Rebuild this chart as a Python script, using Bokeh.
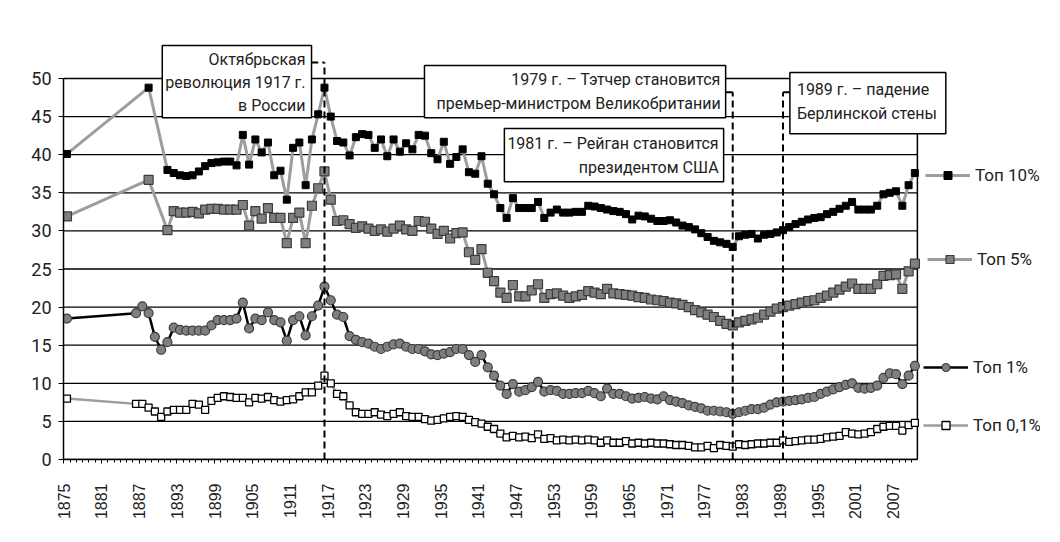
import math
from bokeh.plotting import figure
from bokeh.models import (Range1d, FixedTicker, Label, Arrow, Legend,
                          LegendItem, CustomJSTickFormatter)
from bokeh.core.properties import value
from bokeh.embed import file_html
from bokeh.resources import INLINE

# ---------------- data (income shares, %) ----------------
years_top10 = [1876, 1889] + list(range(1892, 2012))
top10 = [40.1, 48.8,
         38.0, 37.6, 37.3, 37.2, 37.3, 37.8, 38.5, 38.9,
         39.0, 39.1, 39.1, 38.6, 42.6, 38.7, 42.0, 40.3, 41.6, 37.3,
         37.9, 34.1, 40.9, 41.6, 36.0, 42.0, 45.3, 48.8, 45.0, 41.8,
         41.6, 39.9, 42.3, 42.7, 42.6, 40.9, 42.0, 39.8, 42.0, 40.4,
         41.5, 40.7, 42.6, 42.5, 40.2, 39.4, 41.7, 38.8, 39.7, 40.7,
         37.7, 37.5, 39.8, 36.2, 34.8, 33.0, 31.7, 34.3, 33.0, 33.0,
         33.0, 33.8, 31.7, 32.4, 32.8, 32.4, 32.4, 32.5, 32.5, 33.3,
         33.2, 33.0, 32.8, 32.6, 32.5, 32.2, 31.5, 32.0, 31.9, 31.6,
         31.3, 31.3, 31.4, 31.1, 30.7, 30.5, 30.2, 29.7, 29.2, 28.7,
         28.5, 28.3, 27.9, 29.3, 29.5, 29.6, 29.0, 29.5, 29.6, 29.8,
         30.1, 30.5, 30.9, 31.2, 31.5, 31.7, 31.8, 32.2, 32.5, 32.9,
         33.3, 33.8, 32.8, 32.8, 32.8, 33.3, 34.8, 35.0, 35.2, 33.3,
         36.0, 37.6]

years_top5 = [1876, 1889] + list(range(1892, 2012))
top5 = [31.9, 36.7,
        30.1, 32.6, 32.4, 32.4, 32.5, 32.3, 32.8, 32.9,
        32.9, 32.8, 32.8, 32.8, 33.4, 30.7, 32.6, 31.6, 33.0, 31.7,
        31.7, 28.4, 31.7, 32.4, 28.4, 33.3, 35.6, 37.8, 34.1, 31.3,
        31.4, 30.9, 30.4, 30.6, 30.3, 30.0, 30.2, 29.9, 30.3, 30.7,
        30.2, 30.0, 31.3, 31.2, 30.3, 29.6, 30.0, 29.0, 29.7, 29.8,
        27.2, 26.2, 27.6, 24.5, 23.4, 21.9, 21.2, 22.9, 21.4, 21.4,
        22.2, 23.0, 21.2, 21.7, 21.8, 21.5, 21.2, 21.4, 21.6, 22.1,
        21.9, 21.7, 22.4, 21.8, 21.7, 21.6, 21.5, 21.3, 21.2, 21.0,
        20.9, 20.8, 20.6, 20.5, 20.3, 20.0, 19.6, 19.3, 19.0, 18.7,
        18.2, 17.8, 17.6, 18.0, 18.2, 18.4, 18.6, 19.0, 19.4, 19.8,
        20.0, 20.2, 20.4, 20.6, 20.8, 20.9, 21.2, 21.5, 21.9, 22.3,
        22.7, 23.1, 22.4, 22.4, 22.4, 23.0, 24.1, 24.2, 24.3, 22.4,
        24.7, 25.7]

years_top1 = [1876] + list(range(1887, 2012))
top1 = [18.5,
        19.2, 20.1, 19.2, 16.1, 14.4, 15.4, 17.3, 17.0, 16.9, 16.9, 16.9, 16.9, 17.6,
        18.3, 18.3, 18.3, 18.5, 20.6, 17.2, 18.5, 18.3, 19.3, 18.3,
        18.0, 15.6, 18.3, 18.8, 16.3, 18.8, 20.2, 22.7, 20.9, 19.0,
        18.7, 16.2, 15.7, 15.4, 15.2, 14.8, 14.5, 14.8, 15.1, 15.2,
        14.8, 14.5, 14.5, 14.2, 13.8, 13.7, 13.9, 14.1, 14.5, 14.5,
        13.7, 12.8, 13.7, 12.1, 11.0, 9.7, 8.6, 9.9, 8.9, 9.1,
        9.5, 10.2, 8.9, 9.1, 9.0, 8.6, 8.6, 8.7, 8.7, 9.0,
        8.7, 8.3, 9.3, 8.6, 8.6, 8.3, 8.0, 8.1, 8.2, 8.0,
        7.9, 8.3, 7.8, 7.6, 7.4, 7.1, 6.9, 6.7, 6.4, 6.4,
        6.3, 6.2, 6.0, 6.2, 6.4, 6.6, 6.6, 6.8, 7.2, 7.5,
        7.6, 7.7, 7.8, 7.9, 8.1, 8.2, 8.6, 8.9, 9.2, 9.5,
        9.8, 10.0, 9.4, 9.3, 9.4, 9.7, 10.7, 11.3, 11.2, 9.9,
        11.0, 12.3]

years_top01 = [1876] + list(range(1887, 2012))
top01 = [8.0,
         7.3, 7.3, 6.8, 6.3, 5.6, 6.3, 6.5, 6.5, 6.5, 7.3, 7.2, 6.5, 7.7,
         8.1, 8.3, 8.2, 8.1, 8.1, 7.5, 8.1, 8.0, 8.2, 7.8,
         7.6, 7.8, 7.9, 8.3, 8.8, 8.8, 9.7, 11.0, 10.0, 8.6,
         8.3, 7.1, 6.2, 6.0, 6.0, 6.2, 5.9, 5.7, 6.0, 6.2,
         5.7, 5.6, 5.6, 5.3, 5.1, 5.2, 5.4, 5.6, 5.7, 5.6,
         5.2, 4.9, 4.7, 4.3, 4.0, 3.4, 2.9, 3.1, 2.9, 3.0,
         2.8, 3.3, 2.7, 2.8, 2.5, 2.6, 2.5, 2.6, 2.5, 2.6,
         2.5, 2.2, 2.5, 2.2, 2.2, 2.4, 2.1, 2.2, 2.1, 2.2,
         2.1, 2.1, 2.0, 1.9, 1.9, 1.8, 1.6, 1.6, 1.8, 1.5,
         1.9, 1.8, 1.7, 2.0, 1.9, 2.0, 2.1, 2.1, 2.2, 2.2,
         2.5, 2.3, 2.4, 2.5, 2.6, 2.6, 2.7, 2.9, 3.0, 3.1,
         3.6, 3.4, 3.3, 3.4, 3.6, 4.0, 4.3, 4.4, 4.4, 3.8,
         4.5, 4.8]

tick_years = list(range(1875, 2012, 6))
y_ticks = list(range(0, 51, 5))
series_labels = ["Топ 10%", "Топ 5%", "Топ 1%", "Топ 0,1%"]

event_years = [1917, 1982, 1990]
event_texts = ["Октябрьская\nреволюция 1917 г.\nв России",
               "1979 г. – Тэтчер становится\nпремьер-министром Великобритании",
               "1981 г. – Рейган становится\nпрезидентом США",
               "1989 г. – падение\nБерлинской стены"]

# ---------------- layout constants ----------------
X0, X_AXIS_END = 1875.45, 2011.4      # extent of the drawn axes
Y_AXIS_END = 50
FONT = "Roboto"

p = figure(width=1044, height=526,
           x_range=Range1d(X0, 2031.0), y_range=Range1d(0, 55.25),
           output_backend="svg", toolbar_location=None,
           min_border_left=63, min_border_right=4,
           min_border_top=38, min_border_bottom=67)
p.outline_line_color = None
p.background_fill_color = "white"
p.border_fill_color = "white"
p.xgrid.visible = False
p.ygrid.visible = False

# horizontal grid lines limited to the plotting box, plus the right border
p.segment(x0=[X0] * len(y_ticks), y0=y_ticks, x1=[X_AXIS_END] * len(y_ticks), y1=y_ticks,
          line_color="black", line_width=1.3)
p.segment(x0=[X_AXIS_END], y0=[0], x1=[X_AXIS_END], y1=[Y_AXIS_END],
          line_color="black", line_width=1.5)

xa = p.xaxis[0]
xa.bounds = (X0, X_AXIS_END)
xa.ticker = FixedTicker(ticks=[t + 0.5 for t in tick_years],
                        minor_ticks=[t + 0.5 for t in range(1875, 2011)])
xa.formatter = CustomJSTickFormatter(code="return String(Math.floor(tick));")
xa.major_label_orientation = math.pi / 2
xa.major_label_text_font = "Liberation Sans"
xa.major_label_text_font_size = "16px"
xa.major_label_text_color = "#222222"
xa.major_label_standoff = 20
xa.major_tick_in = 0
xa.major_tick_out = 4
xa.minor_tick_in = 0
xa.minor_tick_out = 3
xa.axis_line_color = "black"
xa.axis_line_width = 1.5
xa.major_tick_line_color = "black"
xa.minor_tick_line_color = "black"

ya = p.yaxis[0]
ya.bounds = (0, Y_AXIS_END)
ya.ticker = FixedTicker(ticks=y_ticks)
ya.major_label_text_font = FONT
ya.major_label_text_font_size = "18px"
ya.major_label_text_color = "#222222"
ya.major_label_standoff = 7
ya.major_tick_in = 0
ya.major_tick_out = 5
ya.minor_tick_in = 0
ya.minor_tick_out = 0
ya.axis_line_color = "black"
ya.axis_line_width = 1.5

# ---------------- series ----------------
l10 = p.line(years_top10, top10, line_color="#9d9d9d", line_width=3)
m10 = p.scatter(years_top10, top10, marker="square", size=7,
                fill_color="black", line_color="black")

l5 = p.line(years_top5, top5, line_color="#9d9d9d", line_width=3)
m5 = p.scatter(years_top5, top5, marker="square", size=9,
               fill_color="#7f7f7f", line_color="#3c3c3c", line_width=1.2)

l1 = p.line(years_top1, top1, line_color="black", line_width=2.5)
m1 = p.scatter(years_top1, top1, marker="circle", size=9,
               fill_color="#7f7f7f", line_color="#3c3c3c", line_width=1.2)

l01 = p.line(years_top01, top01, line_color="#9d9d9d", line_width=2.5)
m01 = p.scatter(years_top01, top01, marker="square", size=7,
                fill_color="white", line_color="black", line_width=1.3)

# ---------------- event lines ----------------
dash = dict(line_color="black", line_width=2, line_dash="7 4", end=None, start=None)
p.add_layout(Arrow(x_start=event_years[0], y_start=0, x_end=event_years[0], y_end=52.1, **dash))
p.add_layout(Arrow(x_start=1914.9, y_start=52.1, x_end=event_years[0], y_end=52.1, **dash))
p.add_layout(Arrow(x_start=event_years[1], y_start=0, x_end=event_years[1], y_end=48.2, **dash))
p.add_layout(Arrow(x_start=1980.9, y_start=48.2, x_end=event_years[1], y_end=48.2, **dash))
p.add_layout(Arrow(x_start=event_years[2], y_start=0, x_end=event_years[2], y_end=48.2, **dash))
p.add_layout(Arrow(x_start=event_years[2], y_start=48.2, x_end=1991.1, y_end=48.2, **dash))

# ---------------- annotation boxes ----------------
box_style = dict(text_font=FONT, text_font_size="16px", text_color="#222222",
                 text_line_height=1.22, background_fill_color="white",
                 border_line_color="black", border_line_width=1.5, text_baseline="top")

p.add_layout(Label(x=1914.94, y=54.33, text=event_texts[0], text_align="right",
                   padding=dict(left=3, right=6, top=4, bottom=3), **box_style))
p.add_layout(Label(x=1980.87, y=51.71, text=event_texts[1], text_align="right",
                   padding=dict(left=12, right=5, top=5, bottom=5), **box_style))
p.add_layout(Label(x=1980.55, y=43.44, text=event_texts[2], text_align="right",
                   padding=dict(left=3, right=5, top=6, bottom=5), **box_style))
p.add_layout(Label(x=1991.10, y=50.79, text=event_texts[3], text_align="left",
                   padding=dict(left=7, right=9, top=8, bottom=11), **box_style))

# ---------------- legends (one per series, next to its end) ----------------
legend_specs = [([l10, m10], series_labels[0], (862, 274)),
                ([l5, m5], series_labels[1], (864, 190)),
                ([l1, m1], series_labels[2], (860, 82)),
                ([l01, m01], series_labels[3], (860, 24))]
for rends, lab, loc in legend_specs:
    lg = Legend(items=[LegendItem(label=value(lab), renderers=rends)], location=loc,
                padding=0, margin=0, spacing=0, border_line_color=None,
                background_fill_alpha=0, glyph_width=45, glyph_height=20,
                label_height=20, label_standoff=5, label_text_font=FONT,
                label_text_font_size="17px", label_text_color="#222222")
    p.add_layout(lg)

open("out.html", "w").write(file_html(p, INLINE))
